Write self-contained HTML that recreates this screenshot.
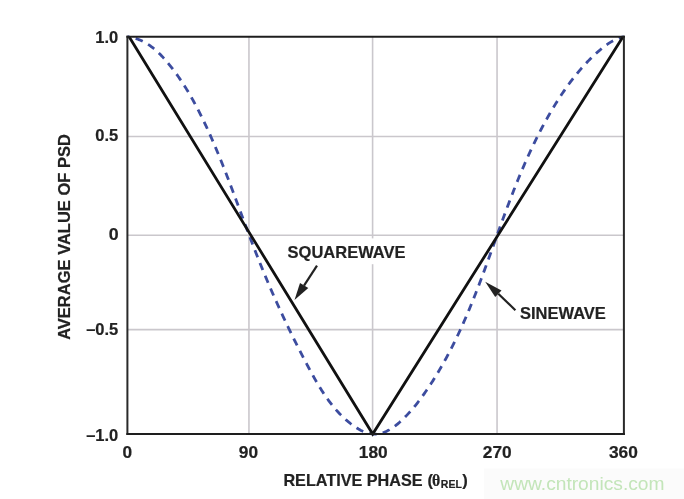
<!DOCTYPE html>
<html><head><meta charset="utf-8"><style>
html,body{margin:0;padding:0;background:#fff;}
svg{display:block;filter:blur(0.4px);}
</style></head><body>
<svg style="will-change:transform" width="684" height="499" viewBox="0 0 684 499">
<rect width="684" height="499" fill="#ffffff"/>
<g stroke="#cac7cc" stroke-width="1.6" fill="none">
<line x1="248.95" y1="36.85" x2="248.95" y2="434.1"/>
<line x1="372.6" y1="36.85" x2="372.6" y2="434.1"/>
<line x1="497.05" y1="36.85" x2="497.05" y2="434.1"/>
<line x1="127.4" y1="136.5" x2="623.9" y2="136.5"/>
<line x1="127.4" y1="235.3" x2="623.9" y2="235.3"/>
<line x1="127.4" y1="329.6" x2="623.9" y2="329.6"/>
</g>
<rect x="283" y="238.4" width="126" height="25.8" fill="#ffffff"/>
<path d="M127.60,36.75 128.59,36.87 129.57,37.02 130.54,37.19 131.50,37.37 132.45,37.58 133.39,37.81 134.32,38.06 135.24,38.32 136.16,38.61 137.06,38.91 137.96,39.23 138.85,39.57 139.73,39.92 140.60,40.30 141.46,40.69 142.31,41.09 143.16,41.51 143.99,41.95 144.82,42.40 145.64,42.87 146.46,43.35 147.26,43.85 148.06,44.36 148.85,44.88 149.64,45.41 150.41,45.96 151.18,46.52 151.95,47.10 152.70,47.68 153.45,48.28 154.19,48.88 154.93,49.50 155.65,50.13 156.38,50.77 157.09,51.41 157.80,52.07 158.51,52.74 159.20,53.41 159.90,54.09 160.58,54.78 161.26,55.48 161.94,56.18 162.61,56.89 163.27,57.61 163.93,58.33 164.58,59.06 165.23,59.80 165.87,60.54 166.51,61.28 167.15,62.03 167.78,62.78 168.40,63.54 169.02,64.30 169.64,65.06 170.25,65.82 170.86,66.59 171.46,67.36 172.06,68.13 172.66,68.90 173.25,69.68 173.84,70.46 174.42,71.23 175.00,72.02 175.58,72.80 176.15,73.59 176.72,74.37 177.28,75.16 177.84,75.95 178.40,76.75 178.95,77.54 179.50,78.34 180.05,79.14 180.59,79.94 181.13,80.74 181.67,81.55 182.20,82.36 182.73,83.16 183.26,83.97 183.78,84.79 184.30,85.60 184.82,86.42 185.33,87.23 185.84,88.05 186.35,88.87 186.86,89.69 187.36,90.52 187.86,91.34 188.35,92.17 188.84,93.00 189.33,93.83 189.82,94.66 190.30,95.49 190.79,96.33 191.26,97.16 191.74,98.00 192.21,98.84 192.68,99.68 193.15,100.52 193.62,101.36 194.08,102.21 194.54,103.05 195.00,103.90 195.45,104.75 195.91,105.59 196.36,106.45 196.81,107.30 197.25,108.15 197.70,109.00 198.14,109.86 198.58,110.71 199.02,111.57 199.45,112.43 199.89,113.29 200.32,114.15 200.75,115.01 201.18,115.87 201.60,116.74 202.03,117.60 202.45,118.47 202.87,119.33 203.29,120.20 203.71,121.07 204.12,121.94 204.53,122.81 204.95,123.68 205.36,124.55 205.77,125.42 206.17,126.29 206.58,127.17 206.98,128.04 207.39,128.92 207.79,129.79 208.19,130.67 208.59,131.55 208.99,132.43 209.38,133.30 209.78,134.18 210.17,135.06 210.56,135.94 210.95,136.83 211.34,137.71 211.73,138.59 212.12,139.47 212.50,140.36 212.89,141.24 213.27,142.13 213.66,143.01 214.04,143.90 214.42,144.79 214.79,145.68 215.17,146.56 215.55,147.45 215.92,148.34 216.30,149.23 216.67,150.12 217.04,151.01 217.41,151.91 217.78,152.80 218.15,153.69 218.52,154.58 218.89,155.48 219.25,156.37 219.62,157.27 219.98,158.16 220.35,159.06 220.71,159.95 221.07,160.85 221.43,161.74 221.79,162.64 222.15,163.54 222.51,164.44 222.87,165.34 223.22,166.24 223.58,167.13 223.93,168.03 224.29,168.93 224.64,169.83 224.99,170.74 225.34,171.64 225.70,172.54 226.05,173.44 226.40,174.34 226.75,175.24 227.09,176.15 227.44,177.05 227.79,177.95 228.14,178.86 228.48,179.76 228.83,180.67 229.17,181.57 229.52,182.47 229.86,183.38 230.21,184.28 230.55,185.19 230.89,186.10 231.23,187.00 231.58,187.91 231.92,188.81 232.26,189.72 232.60,190.63 232.94,191.53 233.28,192.44 233.62,193.35 233.96,194.25 234.30,195.16 234.64,196.07 234.97,196.98 235.31,197.88 235.65,198.79 235.99,199.70 236.32,200.61 236.66,201.52 237.00,202.42 237.34,203.33 237.67,204.24 238.01,205.15 238.35,206.06 238.68,206.97 239.02,207.87 239.35,208.78 239.69,209.69 240.03,210.60 240.36,211.51 240.70,212.42 241.03,213.33 241.37,214.23 241.71,215.14 242.04,216.05 242.38,216.96 242.71,217.87 243.05,218.77 243.39,219.68 243.72,220.59 244.06,221.50 244.40,222.41 244.73,223.31 245.07,224.22 245.41,225.13 245.75,226.04 246.08,226.94 246.42,227.85 246.76,228.76 247.10,229.66 247.44,230.57 247.78,231.47 248.12,232.38 248.46,233.29 248.80,234.19 249.14,235.10 249.48,236.00 249.82,236.91 250.16,237.81 250.50,238.72 250.85,239.62 251.19,240.52 251.53,241.43 251.88,242.33 252.22,243.23 252.57,244.14 252.91,245.04 253.26,245.94 253.60,246.84 253.95,247.74 254.30,248.64 254.65,249.55 255.00,250.45 255.35,251.35 255.70,252.25 256.05,253.14 256.40,254.04 256.75,254.94 257.11,255.84 257.46,256.74 257.81,257.63 258.17,258.53 258.53,259.43 258.88,260.32 259.24,261.22 259.60,262.11 259.96,263.01 260.32,263.90 260.68,264.80 261.04,265.69 261.40,266.58 261.76,267.48 262.13,268.37 262.49,269.26 262.86,270.15 263.22,271.05 263.59,271.94 263.96,272.83 264.32,273.72 264.69,274.61 265.06,275.50 265.43,276.39 265.80,277.27 266.17,278.16 266.55,279.05 266.92,279.94 267.29,280.83 267.67,281.71 268.04,282.60 268.42,283.48 268.80,284.37 269.17,285.26 269.55,286.14 269.93,287.03 270.31,287.91 270.69,288.79 271.07,289.68 271.46,290.56 271.84,291.44 272.22,292.33 272.61,293.21 272.99,294.09 273.38,294.97 273.77,295.85 274.16,296.74 274.54,297.62 274.93,298.50 275.32,299.38 275.72,300.26 276.11,301.13 276.50,302.01 276.89,302.89 277.29,303.77 277.68,304.65 278.08,305.53 278.48,306.40 278.87,307.28 279.27,308.16 279.67,309.03 280.07,309.91 280.47,310.79 280.87,311.66 281.28,312.54 281.68,313.41 282.08,314.29 282.49,315.16 282.90,316.03 283.30,316.91 283.71,317.78 284.12,318.65 284.53,319.53 284.94,320.40 285.35,321.27 285.76,322.14 286.17,323.02 286.59,323.89 287.00,324.76 287.41,325.63 287.83,326.50 288.25,327.37 288.66,328.24 289.08,329.11 289.50,329.98 289.92,330.85 290.34,331.72 290.77,332.58 291.19,333.45 291.61,334.32 292.04,335.19 292.46,336.05 292.89,336.92 293.32,337.79 293.74,338.66 294.17,339.52 294.60,340.39 295.03,341.25 295.46,342.12 295.90,342.98 296.33,343.85 296.76,344.71 297.20,345.58 297.64,346.44 298.07,347.31 298.51,348.17 298.95,349.03 299.39,349.90 299.83,350.76 300.27,351.62 300.71,352.49 301.15,353.35 301.60,354.21 302.04,355.07 302.49,355.93 302.94,356.80 303.38,357.66 303.83,358.52 304.28,359.38 304.73,360.24 305.18,361.10 305.64,361.96 306.09,362.82 306.54,363.68 307.00,364.54 307.45,365.40 307.91,366.26 308.37,367.12 308.83,367.97 309.29,368.83 309.75,369.69 310.21,370.55 310.68,371.40 311.14,372.26 311.61,373.11 312.08,373.97 312.55,374.82 313.02,375.67 313.49,376.52 313.97,377.37 314.45,378.22 314.93,379.07 315.41,379.91 315.89,380.76 316.38,381.60 316.87,382.44 317.36,383.28 317.86,384.12 318.36,384.95 318.86,385.78 319.36,386.61 319.87,387.44 320.38,388.27 320.90,389.09 321.41,389.91 321.93,390.73 322.46,391.55 322.99,392.36 323.52,393.17 324.05,393.98 324.59,394.78 325.14,395.58 325.68,396.38 326.24,397.18 326.79,397.97 327.35,398.76 327.92,399.54 328.49,400.32 329.06,401.10 329.64,401.87 330.22,402.64 330.81,403.41 331.41,404.17 332.01,404.93 332.61,405.68 333.22,406.43 333.83,407.17 334.46,407.91 335.08,408.65 335.71,409.38 336.35,410.11 336.99,410.83 337.64,411.55 338.30,412.26 338.96,412.97 339.63,413.67 340.30,414.36 340.98,415.05 341.67,415.74 342.36,416.42 343.06,417.10 343.77,417.76 344.48,418.43 345.20,419.09 345.93,419.74 346.67,420.38 347.41,421.02 348.16,421.66 348.91,422.28 349.68,422.90 350.45,423.52 351.23,424.12 352.01,424.72 352.80,425.30 353.60,425.87 354.41,426.44 355.22,426.99 356.03,427.52 356.85,428.04 357.68,428.55 358.51,429.04 359.35,429.51 360.19,429.96 361.03,430.40 361.88,430.82 362.74,431.21 363.59,431.58 364.46,431.94 365.32,432.27 366.19,432.57 367.06,432.85 367.94,433.10 368.81,433.33 369.69,433.53 370.57,433.71 371.46,433.85 372.34,433.96 373.23,434.04 374.12,434.09 375.01,434.11 375.90,434.10 376.79,434.05 377.68,433.96 378.58,433.84 379.47,433.69 380.36,433.49 381.26,433.27 382.15,433.01 383.04,432.71 383.93,432.39 384.81,432.04 385.70,431.66 386.58,431.25 387.45,430.82 388.32,430.36 389.19,429.88 390.05,429.38 390.91,428.85 391.76,428.31 392.61,427.74 393.45,427.16 394.28,426.57 395.11,425.96 395.92,425.33 396.73,424.69 397.53,424.04 398.32,423.38 399.10,422.71 399.88,422.03 400.64,421.34 401.40,420.65 402.15,419.95 402.89,419.24 403.62,418.52 404.35,417.80 405.06,417.08 405.77,416.35 406.47,415.62 407.16,414.89 407.85,414.15 408.52,413.42 409.19,412.68 409.86,411.95 410.51,411.21 411.16,410.47 411.80,409.73 412.44,408.99 413.07,408.25 413.69,407.51 414.31,406.76 414.92,406.02 415.52,405.27 416.12,404.52 416.72,403.77 417.31,403.02 417.90,402.27 418.48,401.51 419.05,400.76 419.63,400.00 420.20,399.24 420.76,398.48 421.33,397.72 421.89,396.95 422.44,396.18 423.00,395.41 423.55,394.64 424.09,393.87 424.64,393.09 425.18,392.31 425.73,391.53 426.27,390.75 426.81,389.96 427.34,389.17 427.88,388.38 428.41,387.59 428.94,386.80 429.47,386.00 430.00,385.20 430.52,384.40 431.05,383.60 431.57,382.79 432.09,381.99 432.60,381.18 433.12,380.37 433.63,379.56 434.14,378.74 434.65,377.92 435.16,377.11 435.67,376.29 436.17,375.46 436.68,374.64 437.18,373.82 437.67,372.99 438.17,372.16 438.67,371.33 439.16,370.50 439.65,369.66 440.14,368.83 440.63,367.99 441.11,367.15 441.59,366.32 442.08,365.47 442.55,364.63 443.03,363.79 443.51,362.94 443.98,362.10 444.45,361.25 444.92,360.40 445.39,359.55 445.86,358.70 446.32,357.85 446.78,356.99 447.24,356.14 447.70,355.28 448.16,354.43 448.61,353.57 449.07,352.71 449.52,351.85 449.97,350.99 450.41,350.13 450.86,349.26 451.30,348.40 451.74,347.54 452.18,346.67 452.62,345.81 453.05,344.94 453.49,344.07 453.92,343.20 454.35,342.34 454.78,341.47 455.20,340.60 455.63,339.73 456.05,338.85 456.47,337.98 456.89,337.11 457.30,336.24 457.72,335.36 458.13,334.49 458.54,333.61 458.95,332.73 459.36,331.86 459.77,330.98 460.18,330.10 460.58,329.22 460.98,328.34 461.38,327.46 461.78,326.58 462.18,325.70 462.57,324.82 462.97,323.94 463.36,323.06 463.75,322.17 464.14,321.29 464.53,320.40 464.92,319.52 465.30,318.63 465.68,317.75 466.07,316.86 466.45,315.97 466.83,315.09 467.21,314.20 467.58,313.31 467.96,312.42 468.33,311.53 468.71,310.64 469.08,309.75 469.45,308.86 469.82,307.97 470.19,307.07 470.55,306.18 470.92,305.29 471.29,304.39 471.65,303.50 472.01,302.61 472.37,301.71 472.73,300.82 473.09,299.92 473.45,299.02 473.81,298.13 474.16,297.23 474.52,296.33 474.87,295.44 475.23,294.54 475.58,293.64 475.93,292.74 476.28,291.84 476.63,290.94 476.98,290.04 477.33,289.14 477.67,288.24 478.02,287.34 478.37,286.44 478.71,285.54 479.05,284.64 479.40,283.73 479.74,282.83 480.08,281.93 480.42,281.03 480.76,280.12 481.10,279.22 481.44,278.32 481.78,277.41 482.11,276.51 482.45,275.60 482.79,274.70 483.12,273.79 483.46,272.89 483.79,271.98 484.13,271.08 484.46,270.17 484.79,269.27 485.13,268.36 485.46,267.45 485.79,266.55 486.12,265.64 486.45,264.73 486.78,263.82 487.11,262.92 487.44,262.01 487.77,261.10 488.10,260.19 488.43,259.29 488.76,258.38 489.08,257.47 489.41,256.56 489.74,255.65 490.07,254.74 490.39,253.84 490.72,252.93 491.05,252.02 491.37,251.11 491.70,250.20 492.03,249.29 492.35,248.38 492.68,247.47 493.00,246.56 493.33,245.65 493.66,244.74 493.98,243.83 494.31,242.93 494.63,242.02 494.96,241.11 495.29,240.20 495.61,239.29 495.94,238.38 496.26,237.47 496.59,236.56 496.92,235.65 497.24,234.74 497.57,233.83 497.90,232.92 498.22,232.01 498.55,231.10 498.88,230.19 499.21,229.28 499.53,228.38 499.86,227.47 500.19,226.56 500.52,225.65 500.85,224.74 501.18,223.83 501.51,222.92 501.84,222.01 502.17,221.11 502.50,220.20 502.83,219.29 503.16,218.38 503.49,217.47 503.83,216.57 504.16,215.66 504.49,214.75 504.83,213.85 505.16,212.94 505.50,212.03 505.84,211.13 506.17,210.22 506.51,209.31 506.85,208.41 507.19,207.50 507.52,206.60 507.86,205.69 508.20,204.79 508.55,203.88 508.89,202.98 509.23,202.07 509.57,201.17 509.92,200.27 510.26,199.36 510.61,198.46 510.95,197.56 511.30,196.65 511.65,195.75 512.00,194.85 512.35,193.95 512.70,193.05 513.05,192.15 513.40,191.25 513.75,190.35 514.11,189.45 514.46,188.55 514.82,187.65 515.17,186.75 515.53,185.85 515.89,184.96 516.25,184.06 516.61,183.16 516.97,182.27 517.33,181.37 517.69,180.48 518.06,179.58 518.42,178.69 518.79,177.79 519.16,176.90 519.53,176.01 519.90,175.11 520.27,174.22 520.64,173.33 521.01,172.44 521.39,171.55 521.76,170.66 522.14,169.77 522.52,168.88 522.90,167.99 523.28,167.11 523.66,166.22 524.04,165.33 524.42,164.45 524.81,163.56 525.20,162.68 525.58,161.80 525.97,160.91 526.36,160.03 526.76,159.15 527.15,158.27 527.54,157.39 527.94,156.51 528.34,155.63 528.74,154.75 529.14,153.87 529.54,152.99 529.94,152.12 530.35,151.24 530.75,150.36 531.16,149.49 531.57,148.62 531.98,147.74 532.39,146.87 532.81,146.00 533.22,145.13 533.64,144.26 534.06,143.39 534.48,142.52 534.90,141.66 535.33,140.79 535.75,139.92 536.18,139.06 536.61,138.19 537.04,137.33 537.47,136.47 537.90,135.61 538.34,134.75 538.77,133.89 539.21,133.03 539.65,132.17 540.10,131.31 540.54,130.45 540.99,129.60 541.43,128.74 541.88,127.89 542.34,127.04 542.79,126.19 543.24,125.34 543.70,124.49 544.16,123.64 544.62,122.79 545.09,121.94 545.55,121.10 546.02,120.25 546.49,119.41 546.96,118.56 547.43,117.72 547.90,116.88 548.38,116.04 548.86,115.20 549.34,114.36 549.82,113.53 550.31,112.69 550.80,111.86 551.29,111.02 551.78,110.19 552.27,109.36 552.77,108.53 553.27,107.70 553.77,106.87 554.27,106.04 554.77,105.22 555.28,104.39 555.79,103.57 556.30,102.75 556.81,101.93 557.33,101.11 557.85,100.29 558.37,99.47 558.89,98.66 559.42,97.84 559.95,97.03 560.48,96.22 561.01,95.41 561.54,94.60 562.08,93.79 562.62,92.99 563.16,92.19 563.71,91.39 564.26,90.59 564.81,89.79 565.36,88.99 565.92,88.20 566.48,87.41 567.04,86.62 567.60,85.83 568.17,85.05 568.74,84.27 569.31,83.49 569.89,82.71 570.47,81.93 571.05,81.16 571.63,80.39 572.22,79.62 572.81,78.85 573.41,78.09 574.00,77.33 574.60,76.57 575.20,75.81 575.81,75.06 576.42,74.31 577.03,73.56 577.64,72.82 578.26,72.07 578.88,71.34 579.51,70.60 580.14,69.87 580.77,69.14 581.40,68.41 582.04,67.69 582.68,66.96 583.33,66.25 583.97,65.53 584.63,64.82 585.28,64.11 585.94,63.41 586.60,62.71 587.27,62.01 587.93,61.32 588.61,60.63 589.28,59.94 589.96,59.26 590.65,58.58 591.33,57.90 592.02,57.23 592.72,56.57 593.42,55.90 594.12,55.24 594.82,54.58 595.53,53.93 596.25,53.28 596.96,52.64 597.68,52.00 598.41,51.36 599.14,50.73 599.87,50.11 600.61,49.48 601.35,48.87 602.10,48.26 602.85,47.65 603.61,47.06 604.37,46.47 605.14,45.89 605.91,45.33 606.70,44.77 607.48,44.22 608.28,43.68 609.08,43.16 609.89,42.65 610.71,42.15 611.54,41.66 612.37,41.19 613.22,40.74 614.07,40.30 614.93,39.87 615.80,39.47 616.69,39.08 617.58,38.71 618.48,38.36 619.39,38.03 620.32,37.71 621.25,37.42 622.20,37.15 623.15,36.90 623.80,36.75" fill="none" stroke="#3c4c9f" stroke-width="2.8" stroke-dasharray="7.60 6.202" stroke-dashoffset="5.547"/>
<path d="M129.1,36.7 L372.7,434.0 L623.0,36.7" fill="none" stroke="#111111" stroke-width="2.8" stroke-linejoin="miter" stroke-miterlimit="10"/>
<g stroke-width="2.0" stroke-linecap="square">
<line x1="127.4" y1="36.85" x2="127.4" y2="434.1" stroke="#2a2a2a"/>
<line x1="623.9" y1="36.85" x2="623.9" y2="434.1" stroke="#2a2a2a"/>
<line x1="127.4" y1="36.85" x2="623.9" y2="36.85" stroke="#1e1e1e"/>
<line x1="127.4" y1="434.1" x2="623.9" y2="434.1" stroke="#1e1e1e"/>
</g>
<g font-family="'Liberation Sans', sans-serif" font-weight="bold" font-size="16.5" fill="#222222" stroke="#222222" stroke-width="0.2">
<text x="118.3" y="42.8" text-anchor="end">1.0</text>
<text x="118.3" y="141.2" text-anchor="end">0.5</text>
<text transform="translate(118.6,239.6) scale(1.08,1)" text-anchor="end">0</text>
<text x="118.3" y="335" text-anchor="end">&#8211;0.5</text>
<text x="118.3" y="441" text-anchor="end">&#8211;1.0</text>
<text transform="translate(127.3,458) scale(1.05,1)" text-anchor="middle">0</text>
<text transform="translate(248.5,458) scale(1.05,1)" text-anchor="middle">90</text>
<text transform="translate(373.3,458) scale(1.05,1)" text-anchor="middle">180</text>
<text transform="translate(497.2,458) scale(1.05,1)" text-anchor="middle">270</text>
<text transform="translate(623.4,458) scale(1.05,1)" text-anchor="middle">360</text>
<text x="283.4" y="486" font-size="16.2">RELATIVE PHASE</text>
<text x="427.4" y="486">(</text>
<text x="432.0" y="485.8" font-family="'Liberation Serif', serif" font-weight="bold" font-size="15.8">&#952;</text>
<text x="440.8" y="488.4" font-size="10.5">REL</text>
<text x="462.3" y="486">)</text>
<text transform="translate(70,237) rotate(-90)" text-anchor="middle">AVERAGE VALUE OF PSD</text>
<text x="287.6" y="258.0">SQUAREWAVE</text>
<text x="520.0" y="319.2">SINEWAVE</text>
</g>
<g fill="#222222" stroke="#222222">
<line x1="317" y1="265.7" x2="304" y2="285.6" stroke-width="2.2"/>
<path d="M294.5,300.1 L300,283 L308.3,288.1 Z" stroke="none"/>
<line x1="515.4" y1="310.2" x2="498.3" y2="293.7" stroke-width="2.2"/>
<path d="M485.2,281.7 L501.5,290.4 L495.2,297.1 Z" stroke="none"/>
</g>
<rect x="484" y="468.6" width="200" height="30.4" fill="#fbfbfb"/>
<text x="500.3" y="489.5" font-family="'Liberation Sans', sans-serif" font-size="19.2" fill="#c3e5b9">www.cntronics.com</text>
</svg>
</body></html>
